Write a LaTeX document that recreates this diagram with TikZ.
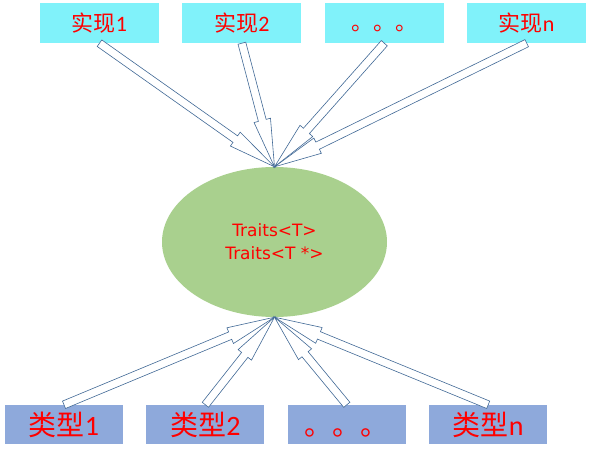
\documentclass[tikz,border=0pt]{standalone}
\usepackage{fontspec}
\setmainfont{Carlito}
\newfontfamily\cjk{Noto Sans CJK SC}
\newfontfamily\traitsfont{DejaVu Sans}
\usetikzlibrary{positioning,calc,shapes.geometric}
\definecolor{implcyan}{RGB}{128,242,250}
\definecolor{typeblue}{RGB}{142,169,219}
\definecolor{coregreen}{RGB}{169,208,142}
\definecolor{arrline}{RGB}{65,105,150}
\tikzset{impl/.style={rectangle,fill=implcyan,minimum width=119pt,minimum height=40pt,inner sep=0pt,text=red,font=\fontsize{22}{24}\selectfont},
         type/.style={rectangle,fill=typeblue,minimum width=118pt,minimum height=39pt,inner sep=0pt,text=red,font=\fontsize{28}{30}\selectfont},
         core/.style={ellipse,fill=coregreen,minimum width=225pt,minimum height=150pt,inner sep=0pt,text=red,align=center,font=\traitsfont\fontsize{17}{23}\selectfont},
         hollow/.style={draw=arrline,fill=white,line width=0.6pt,line join=miter}
}
\newcommand{\arrshaft}{4pt}
\newcommand{\arrhead}{8.5pt}
\newcommand{\arrlen}{48pt}
% hollow block arrow from #1 to #2
\newcommand{\hollowarrow}[2]{%
  \path ($(#2)!\arrlen!(#1)$) coordinate (hb);
  \draw[hollow] ($(#1)!\arrshaft!90:(#2)$) -- ($(hb)!\arrshaft!-90:(#1)$) -- ($(hb)!\arrhead!-90:(#1)$) -- (#2)
     -- ($(hb)!\arrhead!90:(#1)$) -- ($(hb)!\arrshaft!90:(#1)$) -- ($(#1)!\arrshaft!-90:(#2)$) -- cycle;}

\begin{document}
\begin{tikzpicture}[x=1pt,y=1pt]
  \useasboundingbox (0,0) rectangle (589,461);
  % implementations
  \node[impl] (i1) at (99.5,438) {{\cjk 实现}1};
  \node[impl, right=23pt of i1] (i2) {{\cjk 实现}2};
  \node[impl, right=23pt of i2] (i3) {\raisebox{-8pt}[0pt][0pt]{\cjk 。。。}};
  \node[impl, right=23pt of i3] (i4) {{\cjk 实现}n};
  % traits
  \node[core] (tr) at (274.5,219) {Traits<T>\\Traits<T *>};
  % types
  \node[type] (t1) at (64,36.5) {{\cjk 类型}1};
  \node[type, right=23pt of t1] (t2) {{\cjk 类型}2};
  \node[type, right=23pt of t2] (t3) {\raisebox{-11pt}[0pt][0pt]{\cjk 。。。}};
  \node[type, right=23pt of t3] (t4) {{\cjk 类型}n};

  \foreach \i in {1,...,4} {
    \hollowarrow{i\i.south}{tr.north}
    \hollowarrow{t\i.north}{tr.south}
  }
\end{tikzpicture}
\end{document}
